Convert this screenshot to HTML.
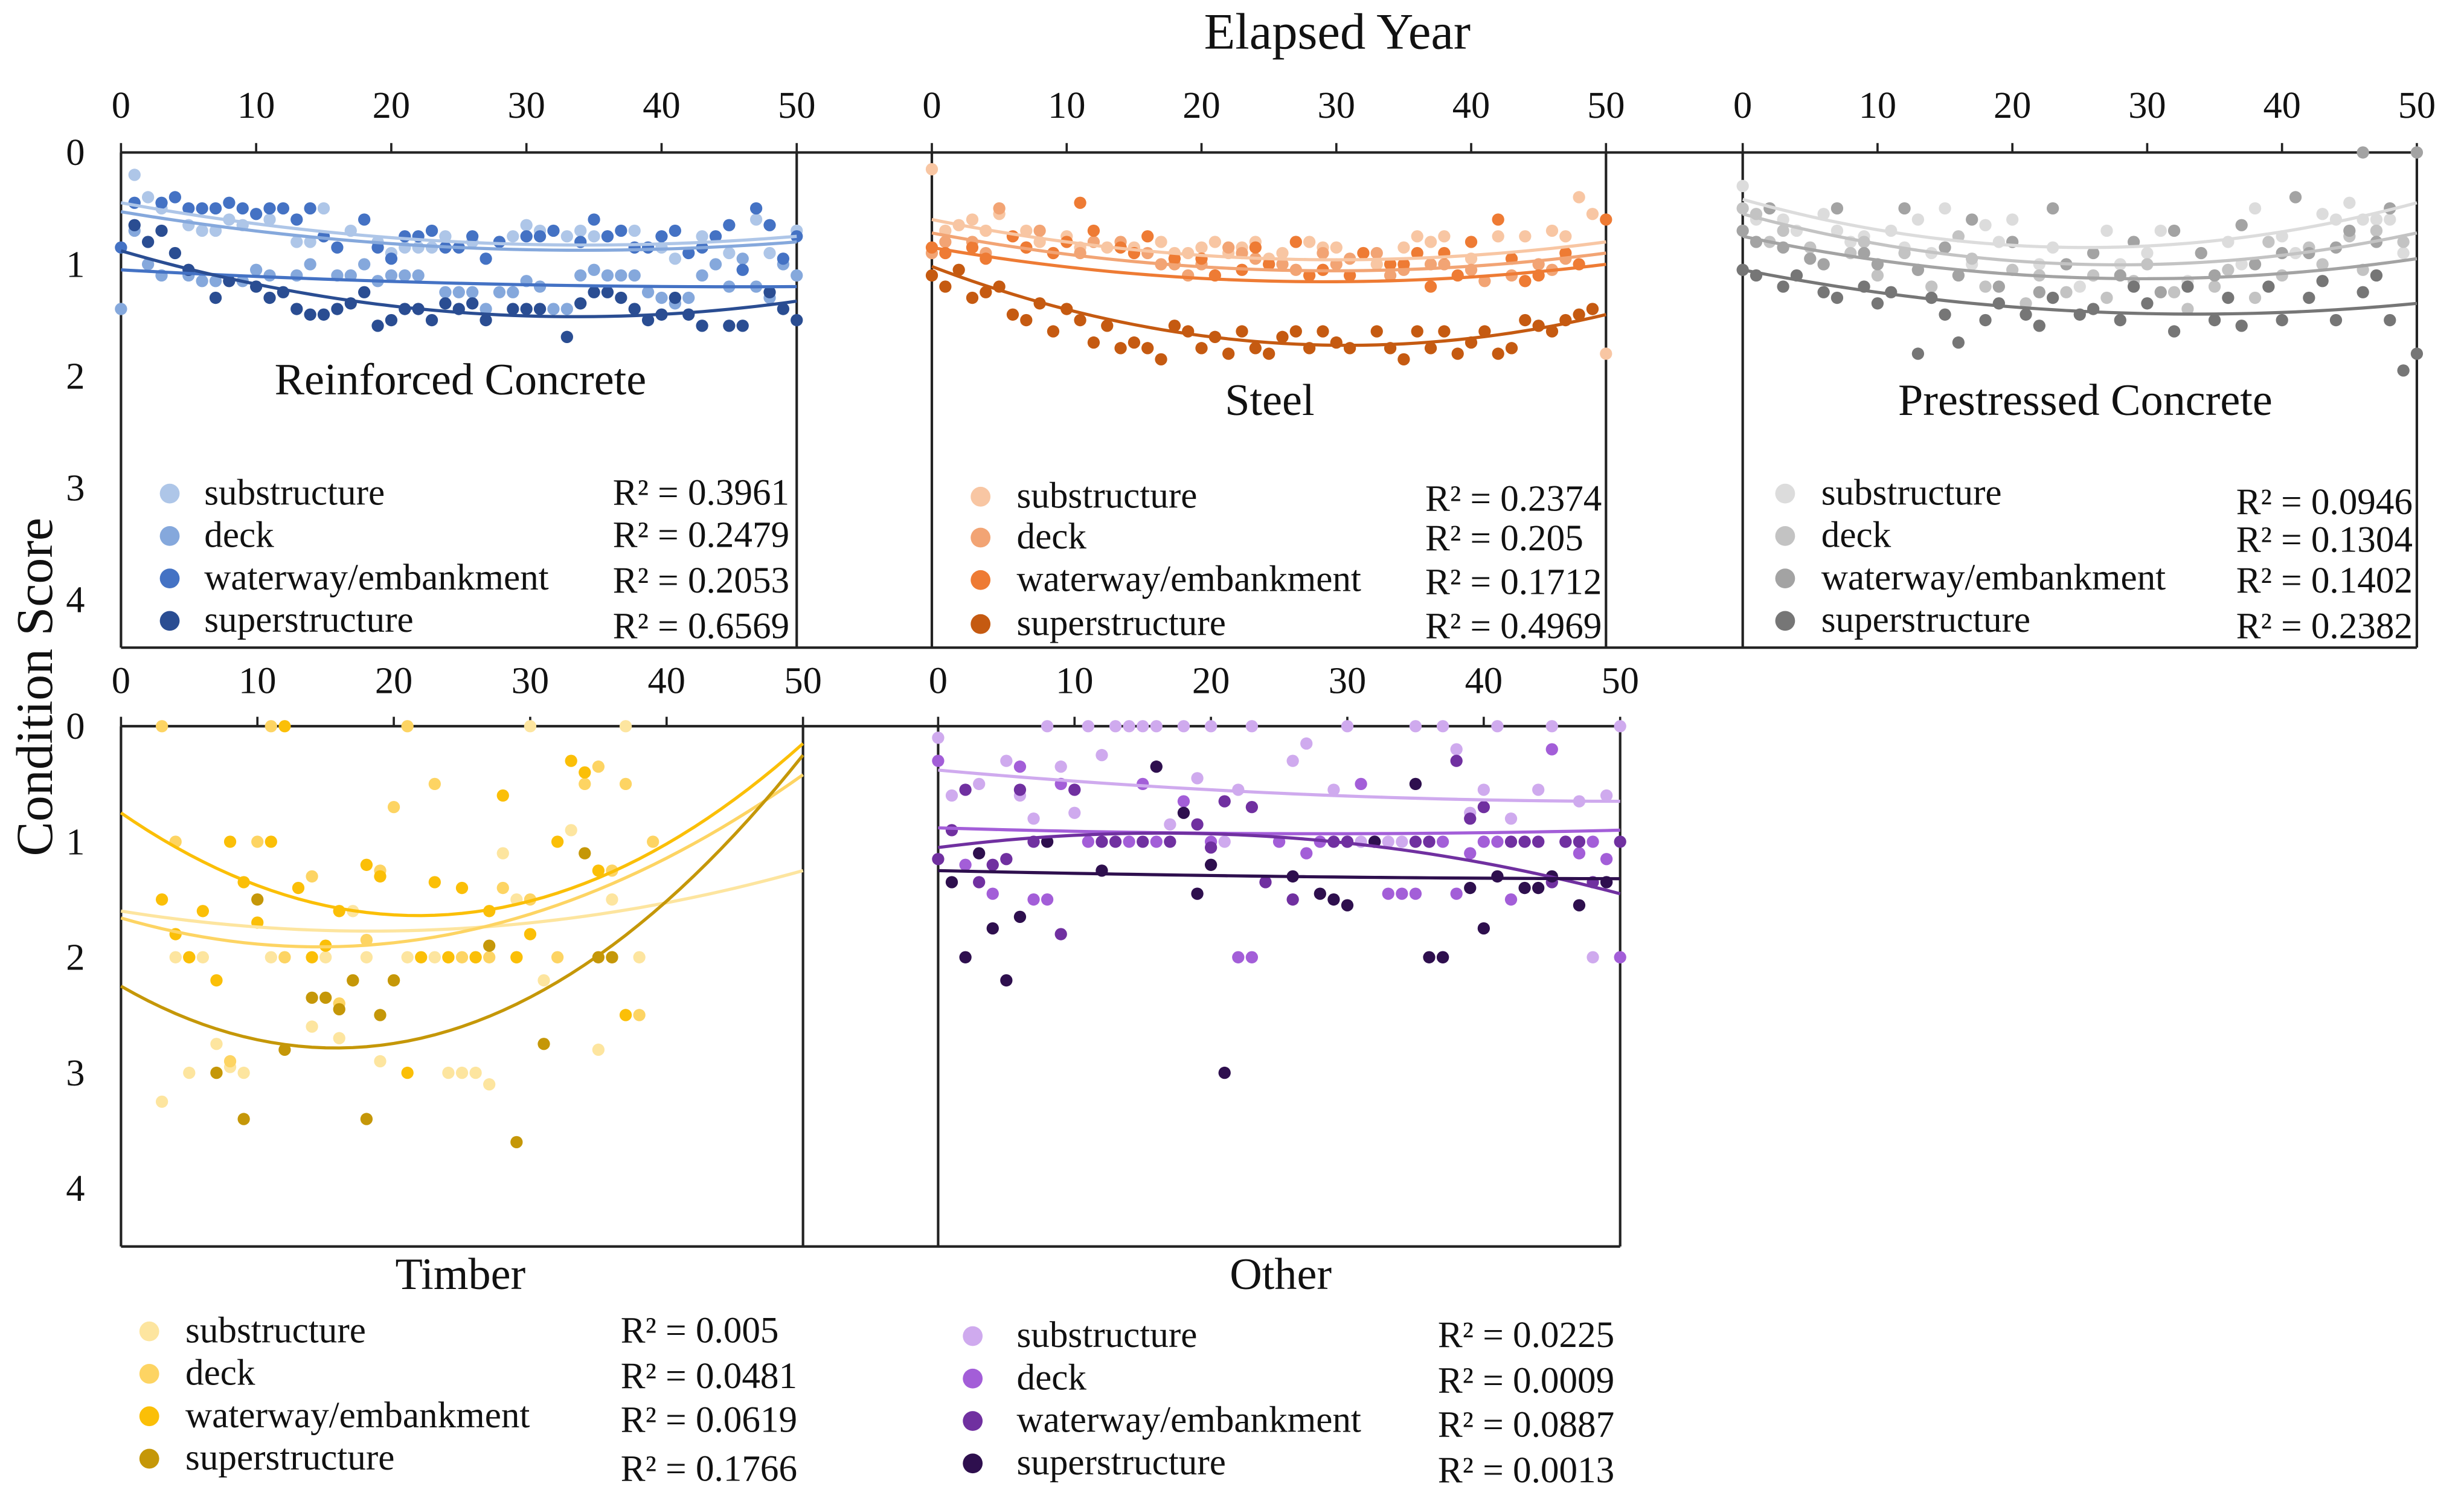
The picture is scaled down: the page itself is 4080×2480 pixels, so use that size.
<!DOCTYPE html>
<html><head><meta charset="utf-8"><style>
html,body{margin:0;padding:0;background:#fff;width:4080px;height:2480px;overflow:hidden}
svg{display:block}
text{font-family:"Liberation Serif",serif;fill:#111}
</style></head><body>
<svg id="chart" width="4080" height="2480" viewBox="0 0 1568 953" preserveAspectRatio="none" xmlns="http://www.w3.org/2000/svg">
<text x="851" y="31" font-size="32.5" text-anchor="middle">Elapsed Year</text>
<text x="0" y="0" font-size="33" text-anchor="middle" transform="translate(33,437) rotate(-90)">Condition Score</text>
<g id="plots"></g>
</svg>
<script>
// x ticks / y ticks
const xTicks = [0,10,20,30,40,50];
const yTicks = [0,1,2,3,4];
const seriesNames = ["substructure","deck","waterway/embankment","superstructure"];
// Reinforced Concrete
const rcSub = [[1,0.2],[2,0.4],[3,0.5],[5,0.65],[6,0.7],[7,0.7],[8,0.6],[9,0.65],[11,0.6],[13,0.8],[14,0.8],[15,0.5],[17,0.7],[19,0.8],[20,0.9],[21,0.85],[22,0.85],[23,0.85],[24,0.75],[26,0.8],[28,0.8],[29,0.75],[30,0.65],[31,0.7],[33,0.75],[34,0.7],[35,0.75],[36,0.75],[38,0.7],[40,0.85],[41,0.95],[43,0.75],[45,0.9],[47,0.6],[48,0.9],[50,0.7]];
const rcDeck = [[0,1.4],[1,0.7],[2,1.0],[3,1.1],[5,1.1],[6,1.15],[7,1.15],[9,1.15],[10,1.05],[11,1.1],[13,1.1],[14,1.0],[16,1.1],[17,1.1],[18,1.0],[19,1.15],[20,1.1],[21,1.1],[22,1.1],[24,1.25],[25,1.25],[26,1.25],[27,1.4],[28,1.25],[29,1.25],[30,1.15],[31,1.2],[32,1.4],[33,1.4],[34,1.1],[35,1.05],[36,1.1],[37,1.1],[38,1.1],[39,1.25],[40,1.3],[41,1.35],[42,1.3],[43,1.1],[44,1.0],[45,1.2],[46,0.95],[47,1.2],[48,1.3],[49,1.0],[50,1.1]];
const rcWw = [[0,0.85],[1,0.45],[3,0.45],[4,0.4],[5,0.5],[6,0.5],[7,0.5],[8,0.45],[9,0.5],[10,0.55],[11,0.5],[12,0.5],[13,0.6],[14,0.5],[15,0.75],[16,0.85],[18,0.6],[19,0.85],[20,0.95],[21,0.75],[22,0.75],[23,0.7],[24,0.85],[25,0.85],[26,0.75],[27,0.95],[28,0.8],[30,0.75],[31,0.75],[32,0.7],[34,0.8],[35,0.6],[36,0.75],[37,0.7],[38,0.85],[39,0.85],[40,0.75],[41,0.7],[42,0.9],[43,0.85],[44,0.75],[45,0.65],[46,1.05],[47,0.5],[48,0.65],[49,0.95],[50,0.75]];
const rcSup = [[1,0.65],[2,0.8],[3,0.7],[4,0.9],[5,1.05],[7,1.3],[8,1.15],[10,1.2],[11,1.3],[12,1.25],[13,1.4],[14,1.45],[15,1.45],[16,1.4],[17,1.35],[18,1.25],[19,1.55],[20,1.5],[21,1.4],[22,1.4],[23,1.5],[24,1.35],[25,1.4],[26,1.35],[27,1.5],[29,1.4],[30,1.4],[31,1.4],[33,1.65],[34,1.35],[35,1.25],[36,1.25],[37,1.3],[38,1.4],[39,1.5],[40,1.45],[41,1.3],[42,1.45],[43,1.55],[45,1.55],[46,1.55],[48,1.25],[49,1.4],[50,1.5]];
// Steel
const stSub = [[0,0.15],[1,0.7],[2,0.65],[3,0.6],[4,0.7],[5,0.55],[7,0.7],[8,0.8],[10,0.75],[11,0.85],[13,0.85],[15,0.85],[17,0.8],[18,0.9],[19,0.9],[20,0.85],[21,0.8],[22,0.9],[23,0.85],[24,0.8],[25,0.95],[26,0.9],[28,0.8],[29,0.85],[30,0.85],[32,0.9],[33,1.0],[35,0.85],[36,0.75],[37,0.8],[38,0.75],[40,0.95],[42,0.75],[44,0.75],[46,0.7],[47,0.75],[48,0.4],[49,0.55],[50,1.8]];
const stDeck = [[0,0.9],[1,0.8],[3,0.8],[4,0.9],[5,0.5],[7,0.85],[8,0.7],[9,0.9],[11,0.9],[12,0.8],[14,0.8],[16,0.9],[17,1.0],[18,1.0],[19,1.1],[20,1.0],[22,0.85],[23,0.9],[24,0.95],[26,1.0],[27,1.05],[29,0.9],[30,1.0],[31,0.95],[33,0.9],[34,1.1],[35,1.05],[37,1.0],[38,1.0],[40,1.05],[41,1.15],[43,1.1],[44,1.15],[45,1.0],[46,1.05],[47,0.95],[49,1.4]];
const stWw = [[0,0.85],[1,0.9],[3,0.85],[4,0.95],[6,0.75],[7,0.85],[9,0.9],[10,0.8],[11,0.45],[12,0.7],[14,0.85],[15,0.9],[16,0.75],[18,0.95],[20,0.95],[21,1.1],[23,1.05],[24,0.85],[25,1.0],[27,0.8],[28,1.1],[29,1.05],[31,1.1],[32,0.9],[34,1.0],[35,1.0],[36,0.9],[37,1.2],[38,0.9],[39,1.1],[40,0.8],[42,0.6],[43,0.95],[44,1.15],[45,1.1],[47,0.9],[48,1.0],[50,0.6]];
const stSup = [[0,1.1],[1,1.2],[2,1.05],[3,1.3],[4,1.25],[5,1.2],[6,1.45],[7,1.5],[8,1.35],[9,1.6],[10,1.4],[11,1.5],[12,1.7],[13,1.55],[14,1.75],[15,1.7],[16,1.75],[17,1.85],[18,1.55],[19,1.6],[20,1.75],[21,1.65],[22,1.8],[23,1.6],[24,1.75],[25,1.8],[26,1.65],[27,1.6],[28,1.75],[29,1.6],[30,1.7],[31,1.75],[33,1.6],[34,1.75],[35,1.85],[36,1.6],[37,1.75],[38,1.6],[39,1.8],[40,1.7],[41,1.6],[42,1.8],[43,1.75],[44,1.5],[45,1.55],[46,1.6],[47,1.5],[48,1.45],[49,1.4]];
// Prestressed Concrete
const pcSub = [[0,0.3],[1,0.6],[2,0.5],[3,0.6],[4,0.7],[6,0.55],[7,0.7],[8,0.8],[9,0.75],[11,0.7],[12,0.85],[13,0.6],[14,0.9],[15,0.5],[17,1.0],[18,0.65],[19,0.8],[20,0.6],[22,1.0],[23,0.85],[25,1.2],[27,0.7],[28,1.0],[30,0.9],[31,0.7],[33,1.15],[34,0.9],[36,0.8],[37,1.0],[38,0.5],[40,0.75],[41,0.9],[43,0.55],[44,0.6],[45,0.45],[46,0.6],[47,0.6],[48,0.6],[49,0.9]];
const pcDeck = [[0,0.5],[1,0.55],[2,0.8],[3,0.7],[5,0.85],[6,1.0],[8,0.9],[9,0.8],[10,1.1],[12,0.9],[13,1.05],[14,1.2],[16,0.75],[17,0.95],[18,1.2],[20,1.05],[21,1.35],[22,1.1],[24,1.25],[26,1.1],[27,1.3],[29,1.15],[30,1.0],[32,1.25],[33,1.4],[35,1.2],[36,1.05],[38,1.3],[39,0.8],[40,1.1],[42,0.85],[43,1.0],[45,0.75],[46,1.05],[47,0.7],[49,0.8]];
const pcWw = [[0,0.7],[1,0.8],[2,0.5],[3,0.85],[5,0.95],[6,1.0],[7,0.5],[9,0.9],[10,1.0],[12,0.5],[13,1.05],[15,0.85],[16,1.1],[17,0.6],[19,1.2],[20,0.8],[22,1.25],[23,0.5],[24,1.0],[26,0.9],[28,1.1],[29,0.8],[31,1.25],[32,0.7],[34,0.9],[35,1.1],[37,0.65],[38,1.0],[40,0.9],[41,0.4],[42,0.9],[44,0.85],[45,0.7],[46,0.0],[47,0.8],[48,0.5],[50,0.0]];
const pcSup = [[0,1.05],[1,1.1],[3,1.2],[4,1.1],[6,1.25],[7,1.3],[9,1.2],[10,1.35],[11,1.25],[13,1.8],[14,1.3],[15,1.45],[16,1.7],[18,1.5],[19,1.35],[21,1.45],[22,1.55],[23,1.3],[25,1.45],[26,1.4],[28,1.5],[29,1.2],[30,1.35],[32,1.6],[33,1.2],[35,1.5],[36,1.3],[37,1.55],[39,1.2],[40,1.5],[42,1.3],[43,1.15],[44,1.5],[46,1.25],[47,1.1],[48,1.5],[49,1.95],[50,1.8]];
// Timber
const tiSub = [[3,3.25],[4,2.0],[5,3.0],[6,2.0],[7,2.75],[8,2.95],[9,3.0],[11,2.0],[12,2.0],[14,2.6],[15,2.0],[16,2.7],[17,1.6],[18,2.0],[19,2.9],[21,2.0],[23,2.0],[24,3.0],[25,3.0],[26,3.0],[27,3.1],[28,1.1],[29,1.5],[30,0.0],[31,2.2],[33,0.9],[35,2.8],[36,1.5],[37,0.0],[38,2.0]];
const tiDeck = [[3,0.0],[4,1.0],[5,2.0],[7,3.0],[8,2.9],[10,1.0],[11,0.0],[12,2.0],[14,1.3],[16,2.4],[18,1.85],[19,1.25],[20,0.7],[21,0.0],[23,0.5],[24,2.0],[25,2.0],[26,2.0],[27,2.0],[28,1.4],[29,2.0],[30,1.5],[32,2.0],[34,0.5],[35,0.35],[36,1.25],[37,0.5],[38,2.5],[39,1.0]];
const tiWw = [[3,1.5],[4,1.8],[5,2.0],[6,1.6],[7,2.2],[8,1.0],[9,1.35],[10,1.7],[11,1.0],[12,0.0],[13,1.4],[14,2.0],[15,1.9],[16,1.6],[17,2.2],[18,1.2],[19,1.3],[20,2.2],[21,3.0],[22,2.0],[23,1.35],[24,2.0],[25,1.4],[26,2.0],[27,1.6],[28,0.6],[29,2.0],[30,1.8],[32,1.0],[33,0.3],[34,0.4],[35,1.25],[36,2.0],[37,2.5]];
const tiSup = [[7,3.0],[9,3.4],[10,1.5],[12,2.8],[14,2.35],[15,2.35],[16,2.45],[17,2.2],[18,3.4],[19,2.5],[20,2.2],[27,1.9],[29,3.6],[31,2.75],[34,1.1],[35,2.0],[36,2.0]];
// Other
const otSub = [[0,0.1],[1,0.6],[3,0.5],[5,0.3],[6,0.6],[7,0.8],[8,0.0],[9,0.35],[10,0.75],[11,0.0],[12,0.25],[13,0.0],[14,0.0],[15,0.0],[16,0.0],[17,0.85],[18,0.0],[19,0.45],[20,0.0],[21,1.0],[22,0.55],[23,0.0],[25,1.0],[26,0.3],[27,0.15],[28,1.0],[29,0.55],[30,0.0],[31,1.0],[32,1.0],[33,1.0],[34,1.0],[35,0.0],[36,1.0],[37,0.0],[38,0.2],[39,0.75],[40,0.55],[41,0.0],[42,0.8],[44,0.55],[45,0.0],[47,0.65],[48,2.0],[49,0.6],[50,0.0]];
const otDeck = [[0,0.3],[2,1.2],[4,1.45],[6,0.35],[7,1.5],[8,1.5],[9,0.5],[10,0.55],[11,1.0],[12,1.0],[14,1.0],[15,0.5],[16,1.0],[18,0.65],[19,1.45],[20,1.0],[22,2.0],[23,2.0],[25,1.0],[27,1.1],[28,1.0],[30,1.0],[31,0.5],[32,1.0],[33,1.45],[34,1.45],[35,1.45],[36,1.0],[37,1.0],[38,1.45],[39,1.1],[40,1.0],[41,1.0],[42,1.5],[44,1.0],[45,0.2],[46,1.0],[47,1.1],[48,1.0],[49,1.15],[50,2.0]];
const otWw = [[0,1.15],[1,0.9],[2,0.55],[3,1.35],[4,1.2],[5,1.15],[6,0.55],[7,1.0],[9,1.8],[10,0.55],[12,1.0],[13,1.0],[15,1.0],[17,1.0],[19,0.85],[20,1.05],[21,0.65],[23,0.7],[24,1.35],[26,1.5],[29,1.0],[30,1.0],[32,1.0],[35,1.0],[36,1.0],[37,2.0],[38,0.3],[39,0.8],[40,0.7],[42,1.0],[43,1.0],[44,1.0],[45,1.35],[46,1.0],[47,1.0],[48,1.35],[49,1.35],[50,1.0]];
const otSup = [[1,1.35],[2,2.0],[3,1.1],[4,1.75],[5,2.2],[6,1.65],[8,1.0],[12,1.25],[16,0.35],[18,0.75],[19,1.45],[20,1.2],[21,3.0],[26,1.3],[28,1.45],[29,1.5],[30,1.55],[32,1.0],[35,0.5],[36,2.0],[37,2.0],[39,1.4],[40,1.75],[41,1.3],[43,1.4],[44,1.4],[45,1.3],[47,1.55],[49,1.35]];
// Trend values at x = 0, 25, 50
const rcTrends = [[0.45,0.8,0.75],[0.53,0.85,0.8],[1.05,1.17,1.2],[0.88,1.43,1.33]];
const stTrends = [[0.6,0.95,0.8],[0.72,1.05,0.9],[0.85,1.15,1.0],[1.02,1.7,1.45]];
const pcTrends = [[0.42,0.85,0.45],[0.55,1.0,0.72],[0.75,1.12,0.95],[1.05,1.42,1.35]];
const tiTrends = [[1.6,1.75,1.25],[1.66,1.78,0.42],[0.75,1.62,0.15],[2.25,2.6,0.25]];
const otTrends = [[0.38,0.58,0.65],[0.88,0.93,0.9],[1.05,0.96,1.45],[1.25,1.3,1.32]];
const rcR2 = ["0.3961","0.2479","0.2053","0.6569"];
const stR2 = ["0.2374","0.205","0.1712","0.4969"];
const pcR2 = ["0.0946","0.1304","0.1402","0.2382"];
const tiR2 = ["0.005","0.0481","0.0619","0.1766"];
const otR2 = ["0.0225","0.0009","0.0887","0.0013"];

const NS="http://www.w3.org/2000/svg";
const root=document.getElementById('plots');
function mk(tag,attrs,parent){const e=document.createElementNS(NS,tag);for(const k in attrs)e.setAttribute(k,attrs[k]);(parent||root).appendChild(e);return e;}

const panels=[
 {key:'rc',title:'Reinforced Concrete',x0:77,x1:507,y0:97,y1:381.5,bottom:412,tickY:75,data:[rcSub,rcDeck,rcWw,rcSup],tr:rcTrends,r2:rcR2,
  colors:['#aec6e8','#85a8dc','#4472c4','#2a4d92'],tx:293,ty:251,leg:{cx:108,tx:130,ys:[314,341,368,395],rx:390,rys:[321,348,377,406]},yLabels:true,yLx:48},
 {key:'st',title:'Steel',x0:593,x1:1022,y0:97,y1:381.5,bottom:412,tickY:75,data:[stSub,stDeck,stWw,stSup],tr:stTrends,r2:stR2,
  colors:['#f8c6a3','#f2a474','#ee7b34','#c55a11'],tx:808,ty:264,leg:{cx:624,tx:647,ys:[316,342,369,397],rx:907,rys:[325,350,378,406]}},
 {key:'pc',title:'Prestressed Concrete',x0:1109,x1:1538,y0:97,y1:381.5,bottom:412,tickY:75,data:[pcSub,pcDeck,pcWw,pcSup],tr:pcTrends,r2:pcR2,
  colors:['#dcdcdc','#c3c3c3','#a3a3a3','#767676'],tx:1327,ty:264,leg:{cx:1136,tx:1159,ys:[314,341,368,395],rx:1423,rys:[327,351,377,406]}},
 {key:'ti',title:'Timber',x0:77,x1:511,y0:462,y1:756,bottom:793,tickY:441,data:[tiSub,tiDeck,tiWw,tiSup],tr:tiTrends,r2:tiR2,
  colors:['#fde59f','#fdd463','#fbbf07','#c59708'],tx:293,ty:820,leg:{cx:95,tx:118,ys:[847,874,901,928],rx:395,rys:[854,883,911,942]},yLabels:true,yLx:48},
 {key:'ot',title:'Other',x0:597,x1:1031,y0:462,y1:756,bottom:793,tickY:441,data:[otSub,otDeck,otWw,otSup],tr:otTrends,r2:otR2,
  colors:['#cfaaee','#a35ed8','#7030a0','#2e0f4e'],tx:815,ty:820,leg:{cx:619,tx:647,ys:[850,877,904,931],rx:915,rys:[857,886,914,943]}}
];

// shared frame lines
mk('line',{x1:77,y1:97,x2:1538,y2:97,stroke:'#222','stroke-width':1.6});
mk('line',{x1:77,y1:412,x2:1538,y2:412,stroke:'#222','stroke-width':1.6});
mk('line',{x1:77,y1:462,x2:1031,y2:462,stroke:'#222','stroke-width':1.6});
mk('line',{x1:77,y1:793,x2:1031,y2:793,stroke:'#222','stroke-width':1.6});

panels.forEach(p=>{
  const g=mk('g',{});
  
  
  const sx=v=>p.x0+(p.x1-p.x0)*v/50;
  const sy=v=>p.y0+(p.y1-p.y0)*v/4;
  mk('line',{x1:p.x0,y1:p.y0,x2:p.x0,y2:p.bottom,stroke:'#222','stroke-width':1.6},g);
  mk('line',{x1:p.x1,y1:p.y0,x2:p.x1,y2:p.bottom,stroke:'#222','stroke-width':1.6},g);
  xTicks.forEach(t=>{
    mk('line',{x1:sx(t),y1:p.y0,x2:sx(t),y2:p.y0-6,stroke:'#222','stroke-width':1.4},g);
    const tt=mk('text',{x:sx(t),y:p.tickY,'font-size':24,'text-anchor':'middle'},g);
    tt.textContent=t;
    
    
  });
  if(p.yLabels){
    yTicks.forEach(t=>{
      const tt=mk('text',{x:p.yLx,y:sy(t)+8,'font-size':24,'text-anchor':'middle'},g);
      tt.textContent=t;
      
      
    });
  }
  const lt=mk('text',{x:p.tx,y:p.ty,'font-size':28.5,'text-anchor':'middle'},g);
  lt.textContent=p.title;
  
  
  p.data.forEach((pts,i)=>{
    const sg=mk('g',{fill:p.colors[i]},g);
    
    
    pts.forEach(d=>{
      const c=mk('circle',{cx:sx(d[0]),cy:sy(d[1]),r:3.9},sg);
      
      
    });
  });
  p.tr.forEach((t,i)=>{
    const a=t[0], b=t[1], c=t[2];
    let dstr='';
    for(let k=0;k<=50;k++){
      const u=k/25;
      const y=a*(u-1)*(u-2)/2 - b*u*(u-2) + c*u*(u-1)/2;
      dstr+=(k?'L':'M')+sx(k).toFixed(2)+','+sy(y).toFixed(2);
    }
    const pa=mk('path',{d:dstr,fill:'none',stroke:p.colors[i],'stroke-width':2},g);
    
    
  });
  const L=p.leg;
  seriesNames.forEach((n,i)=>{
    const lg=mk('g',{},g);
    
    
    mk('circle',{cx:L.cx,cy:L.ys[i],r:6.3,fill:p.colors[i]},lg);
    const t1=mk('text',{x:L.tx,y:L.ys[i]+7,'font-size':23.5},lg);
    t1.textContent=n;
    const t2=mk('text',{x:L.rx,y:L.rys[i],'font-size':23.5},lg);
    t2.textContent='R² = '+p.r2[i];
  });
});
</script>
</body></html>
